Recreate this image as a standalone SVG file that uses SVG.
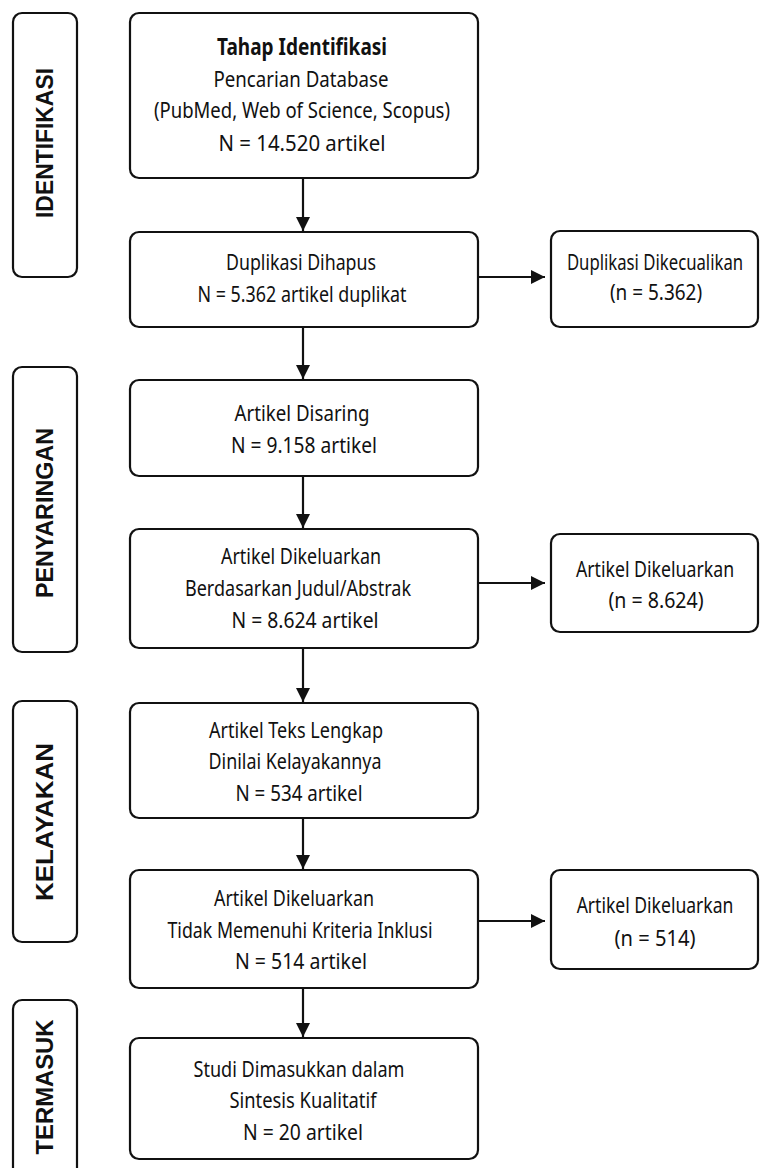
<svg xmlns="http://www.w3.org/2000/svg" width="761" height="1168" viewBox="0 0 761 1168">
<defs>
<style>
.box{fill:#fff;stroke:#111;stroke-width:2.2}
.t{font-family:"Noto Sans","Liberation Sans",sans-serif;font-size:22.5px;fill:#111;text-anchor:middle}
.b{font-weight:bold}
.lab{font-family:"Liberation Sans","DejaVu Sans",sans-serif;font-size:24px;font-weight:bold;fill:#111;text-anchor:middle}
.c{stroke:#111;stroke-width:2.2;fill:none}
</style>
<marker id="ah" viewBox="0 0 14 14" refX="14" refY="7" markerWidth="14" markerHeight="14" markerUnits="userSpaceOnUse" orient="auto">
<path d="M0,0 L14,7 L0,14 Z" fill="#111"/>
</marker>
</defs>
<rect width="761" height="1168" fill="#fff"/>

<g id="label-identifikasi">
<rect class="box" x="13" y="13" width="64" height="264" rx="9"/>
<text class="lab" transform="translate(53,143) rotate(-90)" textLength="150" lengthAdjust="spacingAndGlyphs">IDENTIFIKASI</text>
</g>
<g id="label-penyaringan">
<rect class="box" x="13" y="367" width="64" height="285" rx="9"/>
<text class="lab" transform="translate(53,513) rotate(-90)" textLength="170" lengthAdjust="spacingAndGlyphs">PENYARINGAN</text>
</g>
<g id="label-kelayakan">
<rect class="box" x="13" y="701" width="64" height="241" rx="9"/>
<text class="lab" transform="translate(53,822) rotate(-90)" textLength="158" lengthAdjust="spacingAndGlyphs">KELAYAKAN</text>
</g>
<g id="label-termasuk">
<rect class="box" x="13" y="1000" width="64" height="180" rx="9"/>
<text class="lab" transform="translate(53,1087) rotate(-90)" textLength="135" lengthAdjust="spacingAndGlyphs">TERMASUK</text>
</g>

<g id="n1">
<rect class="box" x="130" y="13" width="348" height="165" rx="9"/>
<text class="t b" x="302" y="55" textLength="170" lengthAdjust="spacingAndGlyphs">Tahap Identifikasi</text>
<text class="t" x="301" y="87" textLength="175" lengthAdjust="spacingAndGlyphs">Pencarian Database</text>
<text class="t" x="302" y="118" textLength="296" lengthAdjust="spacingAndGlyphs">(PubMed, Web of Science, Scopus)</text>
<text class="t" x="302" y="151" textLength="167" lengthAdjust="spacingAndGlyphs">N = 14.520 artikel</text>
</g>
<g id="n2">
<rect class="box" x="130" y="232" width="348" height="95" rx="9"/>
<text class="t" x="301" y="270" textLength="150" lengthAdjust="spacingAndGlyphs">Duplikasi Dihapus</text>
<text class="t" x="302" y="302" textLength="209" lengthAdjust="spacingAndGlyphs">N = 5.362 artikel duplikat</text>
</g>
<g id="n2x">
<rect class="box" x="551" y="231" width="207" height="96" rx="9"/>
<text class="t" transform="translate(655,270) scale(0.75,1)" textLength="235" lengthAdjust="spacingAndGlyphs">Duplikasi Dikecualikan</text>
<text class="t" transform="translate(656,300) scale(0.75,1)" textLength="123" lengthAdjust="spacingAndGlyphs">(n = 5.362)</text>
</g>
<g id="n3">
<rect class="box" x="130" y="380" width="348" height="96" rx="9"/>
<text class="t" x="302" y="421" textLength="135" lengthAdjust="spacingAndGlyphs">Artikel Disaring</text>
<text class="t" x="304" y="453" textLength="146" lengthAdjust="spacingAndGlyphs">N = 9.158 artikel</text>
</g>
<g id="n4">
<rect class="box" x="130" y="529" width="348" height="119" rx="9"/>
<text class="t" x="301" y="564" textLength="160" lengthAdjust="spacingAndGlyphs">Artikel Dikeluarkan</text>
<text class="t" x="298" y="596" textLength="226" lengthAdjust="spacingAndGlyphs">Berdasarkan Judul/Abstrak</text>
<text class="t" x="305" y="628" textLength="147" lengthAdjust="spacingAndGlyphs">N = 8.624 artikel</text>
</g>
<g id="n4x">
<rect class="box" x="551" y="534" width="207" height="98" rx="9"/>
<text class="t" transform="translate(655,577) scale(0.75,1)" textLength="211" lengthAdjust="spacingAndGlyphs">Artikel Dikeluarkan</text>
<text class="t" transform="translate(656,608) scale(0.75,1)" textLength="127" lengthAdjust="spacingAndGlyphs">(n = 8.624)</text>
</g>
<g id="n5">
<rect class="box" x="130" y="703" width="348" height="115" rx="9"/>
<text class="t" x="296" y="738" textLength="174" lengthAdjust="spacingAndGlyphs">Artikel Teks Lengkap</text>
<text class="t" x="295" y="769" textLength="173" lengthAdjust="spacingAndGlyphs">Dinilai Kelayakannya</text>
<text class="t" x="299" y="801" textLength="127" lengthAdjust="spacingAndGlyphs">N = 534 artikel</text>
</g>
<g id="n6">
<rect class="box" x="130" y="870" width="348" height="118" rx="9"/>
<text class="t" x="294" y="906" textLength="160" lengthAdjust="spacingAndGlyphs">Artikel Dikeluarkan</text>
<text class="t" x="300" y="938" textLength="265" lengthAdjust="spacingAndGlyphs">Tidak Memenuhi Kriteria Inklusi</text>
<text class="t" x="301" y="969" textLength="132" lengthAdjust="spacingAndGlyphs">N = 514 artikel</text>
</g>
<g id="n6x">
<rect class="box" x="551" y="870" width="207" height="99" rx="9"/>
<text class="t" transform="translate(655,913) scale(0.75,1)" textLength="209" lengthAdjust="spacingAndGlyphs">Artikel Dikeluarkan</text>
<text class="t" transform="translate(655,946) scale(0.75,1)" textLength="108" lengthAdjust="spacingAndGlyphs">(n = 514)</text>
</g>
<g id="n7">
<rect class="box" x="130" y="1038" width="348" height="121" rx="9"/>
<text class="t" x="299" y="1077" textLength="211" lengthAdjust="spacingAndGlyphs">Studi Dimasukkan dalam</text>
<text class="t" x="303" y="1108" textLength="147" lengthAdjust="spacingAndGlyphs">Sintesis Kualitatif</text>
<text class="t" x="303" y="1140" textLength="120" lengthAdjust="spacingAndGlyphs">N = 20 artikel</text>
</g>

<g id="connectors">
<line class="c" x1="303" y1="178" x2="303" y2="231" marker-end="url(#ah)"/>
<line class="c" x1="303" y1="327" x2="303" y2="379" marker-end="url(#ah)"/>
<line class="c" x1="303" y1="476" x2="303" y2="528" marker-end="url(#ah)"/>
<line class="c" x1="303" y1="648" x2="303" y2="702" marker-end="url(#ah)"/>
<line class="c" x1="303" y1="818" x2="303" y2="869" marker-end="url(#ah)"/>
<line class="c" x1="303" y1="988" x2="303" y2="1037" marker-end="url(#ah)"/>
<line class="c" x1="478" y1="277" x2="545" y2="277" marker-end="url(#ah)"/>
<line class="c" x1="478" y1="583" x2="545" y2="583" marker-end="url(#ah)"/>
<line class="c" x1="478" y1="921" x2="545" y2="921" marker-end="url(#ah)"/>
</g>
</svg>
